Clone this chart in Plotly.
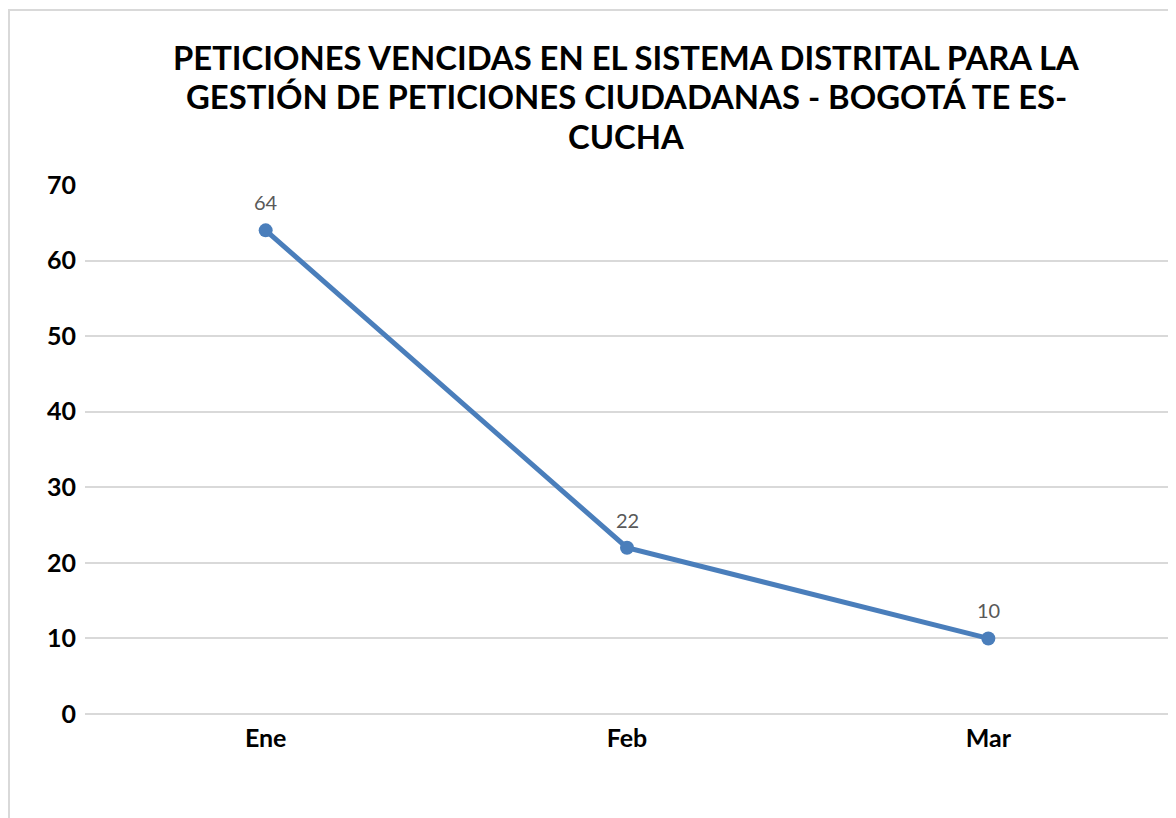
import plotly.graph_objects as go

months = ["Ene", "Feb", "Mar"]
vencidas = [64, 22, 10]
title_lines = [
    "PETICIONES VENCIDAS EN EL SISTEMA DISTRITAL PARA LA",
    "GESTIÓN DE PETICIONES CIUDADANAS - BOGOTÁ TE ES-",
    "CUCHA",
]
y_ticks = [0, 10, 20, 30, 40, 50, 60, 70]

FONT = "Lato"
LINE_COLOR = "#4A7EBB"
GRID = "#D9D9D9"

# the page body adds an 8px offset; layout is in figure pixels
OFF = 8
W, H = 1176, 818
L, T = 85 - OFF, 185 - OFF
R = W - (1169 - OFF)
B = H - (714 - OFF)
pw, ph = W - L - R, H - T - B


def px_to_paper_x(px):
    return (px - OFF - L) / pw


def px_to_paper_y(py):
    return 1 - (py - OFF - T) / ph


fig = go.Figure()
fig.add_trace(go.Scatter(
    x=months, y=vencidas, mode="lines+markers",
    line=dict(color=LINE_COLOR, width=5),
    marker=dict(color=LINE_COLOR, size=14),
    hoverinfo="x+y", showlegend=False,
))
for m, v in zip(months, vencidas):
    fig.add_annotation(x=m, y=v, text=str(v), showarrow=False, yshift=28,
                       font=dict(family=FONT, size=20, color="#595959"))

title_centers = [58, 97, 136]
for line, yc in zip(title_lines, title_centers):
    fig.add_annotation(xref="paper", yref="paper", x=px_to_paper_x(626), y=px_to_paper_y(yc),
                       xanchor="center", yanchor="middle", showarrow=False, text=f"<b>{line}</b>",
                       font=dict(family=FONT, size=32.8, color="black"))

fig.add_shape(type="rect", xref="paper", yref="paper",
              x0=px_to_paper_x(9), x1=px_to_paper_x(W + 20),
              y0=px_to_paper_y(H + 20), y1=px_to_paper_y(10),
              line=dict(color=GRID, width=2), fillcolor="rgba(0,0,0,0)", layer="below")

fig.update_layout(
    width=W, height=H,
    margin=dict(l=L, r=R, t=T, b=B),
    paper_bgcolor="white", plot_bgcolor="white",
    font=dict(family=FONT, color="black"),
    xaxis=dict(showgrid=False, showline=False, zeroline=False,
               ticks="outside", ticklen=2, tickcolor="rgba(0,0,0,0)",
               tickfont=dict(family=FONT, size=25, color="black", weight="bold"),
               range=[-0.5, 2.5]),
    yaxis=dict(range=[0, 70], tickvals=y_ticks, showgrid=True, gridcolor=GRID, gridwidth=1.5,
               zeroline=True, zerolinecolor=GRID, zerolinewidth=1.5, showline=False,
               ticks="outside", ticklen=3, tickcolor="rgba(0,0,0,0)",
               tickfont=dict(family=FONT, size=25, color="black", weight="bold")),
)
fig.write_html("out.html")
